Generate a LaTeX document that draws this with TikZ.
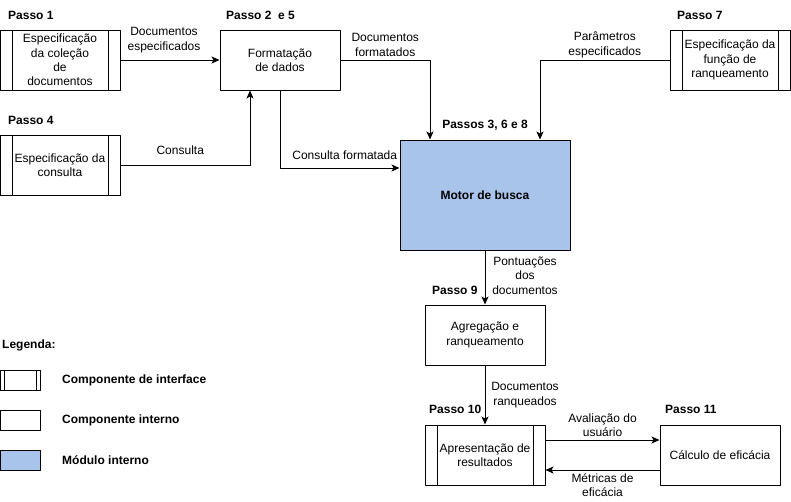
\documentclass[tikz,border=0pt]{standalone}
\usepackage{fontspec}
\setmainfont{Liberation Sans}
\usetikzlibrary{arrows.meta,calc}
\definecolor{modulo}{HTML}{A9C4EB}
\begin{document}
\begin{tikzpicture}[x=1pt, y=-1pt, font=\fontsize{12}{14.4}\selectfont, line join=round, >={Stealth[length=8pt,width=7pt,inset=2pt]},
	caixa/.style={draw, line width=1pt, minimum width=120pt, minimum height=60pt, inner sep=0pt, align=center},
	interface/.style={caixa, path picture={
		\draw[line width=1pt] ($(path picture bounding box.north west)!.1!(path picture bounding box.north east)$) -- ($(path picture bounding box.south west)!.1!(path picture bounding box.south east)$)
		($(path picture bounding box.north west)!.9!(path picture bounding box.north east)$) -- ($(path picture bounding box.south west)!.9!(path picture bounding box.south east)$);}},
	passo/.style={anchor=west, inner sep=0pt, font=\fontsize{12}{14.4}\selectfont\bfseries},
	rotulo/.style={inner sep=0pt, align=center},
	seta/.style={->, line width=1pt}]
		\useasboundingbox (0,0) rectangle (791,501);
		\node[interface] (colecao) at (60,60) {Especificação\\da coleção\\de\\documentos};
		\node[caixa] (formatacao) at (280,60) {Formatação\\de dados};
		\node[interface] (consulta) at (60,165) {Especificação da\\consulta};
		\node[caixa, fill=modulo, minimum width=170pt, minimum height=110pt, font=\fontsize{12}{14.4}\selectfont\bfseries] (motor) at (485,195) {Motor de busca};
		\node[interface] (funcao) at (730,60) {Especificação da\\função de\\ranqueamento};
		\node[caixa] (agregacao) at (485,335) {Agregação e\\ranqueamento};
		\node[interface] (apresentacao) at (485,455) {Apresentação de\\resultados};
		\node[caixa] (eficacia) at (720,455) {Cálculo de eficácia};
		\node[passo] (passo1) at (8,15) {Passo 1};
		\node[passo] (passo2) at (226,15) {Passo 2 \ e 5};
		\node[passo] (passo4) at (8,120) {Passo 4};
		\node[passo, anchor=center] (passo3) at (485,125) {Passos 3, 6 e 8};
		\node[passo] (passo7) at (677,15) {Passo 7};
		\node[passo] (passo9) at (432,290) {Passo 9};
		\node[passo] (passo10) at (429,409) {Passo 10};
		\node[passo] (passo11) at (665,409) {Passo 11};
		\node[passo] (legenda) at (2,345) {Legenda:};
		\node[interface, minimum width=40pt, minimum height=20pt] (leginterface) at (20,380) {};
		\node[caixa, minimum width=40pt, minimum height=20pt] (leginterno) at (20,420) {};
		\node[caixa, fill=modulo, minimum width=40pt, minimum height=20pt] (legmodulo) at (20,460) {};
		\node[passo] (txtinterface) at (62,380) {Componente de interface};
		\node[passo] (txtinterno) at (62,420) {Componente interno};
		\node[passo] (txtmodulo) at (62,460) {Módulo interno};
		\draw[seta] (colecao.east) -- (formatacao.west) node[rotulo, midway, xshift=-6pt, yshift=20pt] {Documentos\\especificados};
		\draw[seta] (consulta.east) -| ([xshift=-30pt]formatacao.south) node[rotulo, pos=.25, xshift=-5pt, yshift=15pt] {Consulta};
		\draw[seta] (formatacao.south) |- ([yshift=27pt]motor.west) node[rotulo, pos=.75, xshift=5pt, yshift=13pt] {Consulta formatada};
		\draw[seta] (formatacao.east) -| ([xshift=-55pt]motor.north) node[rotulo, pos=.25, yshift=15pt] {Documentos\\formatados};
		\draw[seta] (funcao.west) -| ([xshift=55pt]motor.north) node[rotulo, pos=.25, yshift=15pt] {Parâmetros\\especificados};
		\draw[seta] (motor.south) -- (agregacao.north) node[rotulo, midway, xshift=40pt, yshift=2pt] {Pontuações\\dos\\documentos};
		\draw[seta] (agregacao.south) -- (apresentacao.north) node[rotulo, midway, xshift=40pt] {Documentos\\ranqueados};
		\draw[seta] ([yshift=15pt]apresentacao.east) -- ([yshift=15pt]eficacia.west) node[rotulo, midway, yshift=15pt] {Avaliação do\\usuário};
		\draw[seta] ([yshift=-15pt]eficacia.west) -- ([yshift=-15pt]apresentacao.east) node[rotulo, midway, yshift=-15pt] {Métricas de\\eficácia};
\end{tikzpicture}
\end{document}
